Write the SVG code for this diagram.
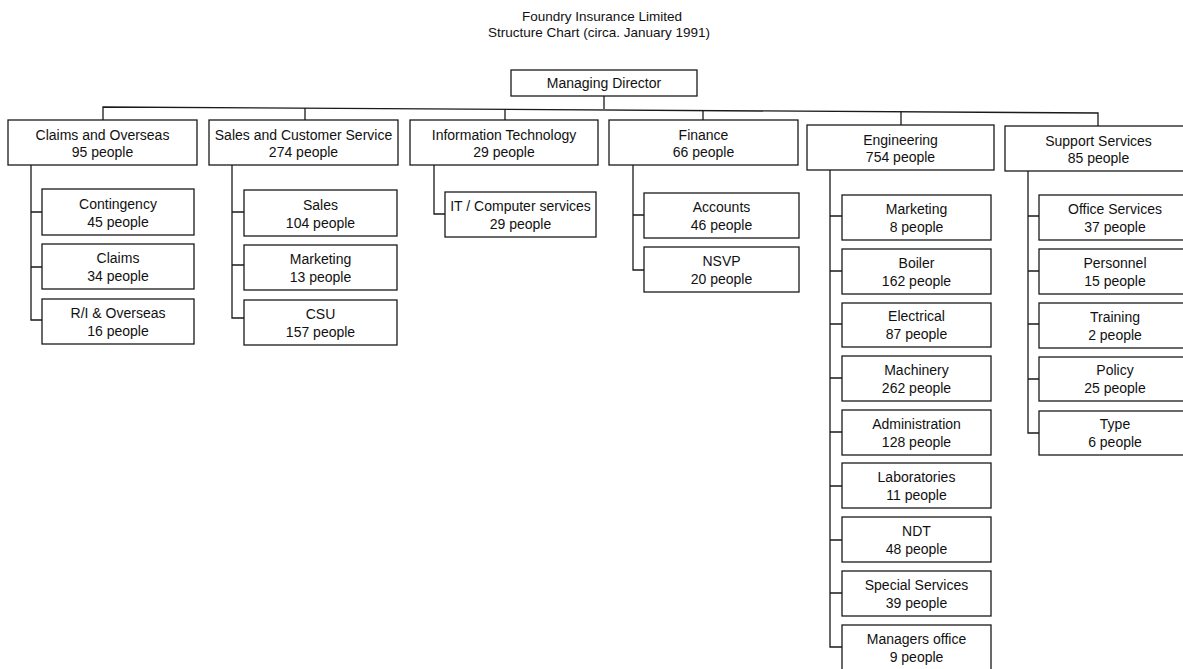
<svg xmlns="http://www.w3.org/2000/svg" width="1183" height="669" viewBox="0 0 1183 669">
<style>
  .box { fill: #ffffff; stroke: #1a1a1a; stroke-width: 1.3; }
  .conn { fill: none; stroke: #1a1a1a; stroke-width: 1.3; }
  text { font-family: "Liberation Sans", Arial, sans-serif; font-size: 14px; fill: #111; text-anchor: middle; }
  .title { font-size: 13.5px; }
</style>
<rect x="0" y="0" width="1183" height="669" fill="#ffffff"/>
<g id="title">
  <text class="title" x="602" y="21">Foundry Insurance Limited</text>
  <text class="title" x="599" y="37">Structure Chart (circa. January 1991)</text>
</g>
<g id="connectors">
  <path class="conn" d="M604 96 V109"/>
  <path class="conn" d="M103 120 V107 L1098 113 V126"/>
  <path class="conn" d="M305 120 V108"/>
  <path class="conn" d="M505 120 V109"/>
  <path class="conn" d="M703 120 V110"/>
  <path class="conn" d="M901 125 V111"/>
  <path class="conn" d="M31 165 V320 H42 M31 212 H42 M31 267 H42"/>
  <path class="conn" d="M232 165 V318 H244 M232 212 H244 M232 265 H244"/>
  <path class="conn" d="M434 165 V214 H445"/>
  <path class="conn" d="M633 165 V270 H644 M633 215 H644"/>
  <path class="conn" d="M830 170 V647 H842 M830 216 H842 M830 271 H842 M830 324 H842 M830 378 H842 M830 432 H842 M830 486 H842 M830 540 H842 M830 593 H842"/>
  <path class="conn" d="M1028 171 V433 H1039 M1028 216 H1039 M1028 271 H1039 M1028 324 H1039 M1028 379 H1039"/>
</g>
<g id="managing-director"><rect class="box" x="511" y="70" width="186" height="26"/><text x="604" y="88">Managing Director</text></g>

<g id="claims-overseas"><rect class="box" x="8" y="120" width="189" height="45"/><text x="102.5" y="140">Claims and Overseas</text><text x="102.5" y="157">95 people</text></g>
<g id="sales-customer-service"><rect class="box" x="209" y="120" width="189" height="45"/><text x="303.5" y="140">Sales and Customer Service</text><text x="303.5" y="157">274 people</text></g>
<g id="information-technology"><rect class="box" x="410" y="120" width="188" height="45"/><text x="504" y="140">Information Technology</text><text x="504" y="157">29 people</text></g>
<g id="finance"><rect class="box" x="609" y="120" width="189" height="45"/><text x="703.5" y="140">Finance</text><text x="703.5" y="157">66 people</text></g>
<g id="engineering"><rect class="box" x="807" y="125" width="187" height="45"/><text x="900.5" y="145">Engineering</text><text x="900.5" y="162">754 people</text></g>
<g id="support-services"><rect class="box" x="1005" y="126" width="187" height="45"/><text x="1098.5" y="146">Support Services</text><text x="1098.5" y="163">85 people</text></g>

<g id="contingency"><rect class="box" x="42" y="189" width="152" height="46"/><text x="118" y="209">Contingency</text><text x="118" y="227">45 people</text></g>
<g id="claims"><rect class="box" x="42" y="244" width="152" height="45"/><text x="118" y="263">Claims</text><text x="118" y="281">34 people</text></g>
<g id="ri-overseas"><rect class="box" x="42" y="299" width="152" height="45"/><text x="118" y="318">R/I &amp; Overseas</text><text x="118" y="336">16 people</text></g>

<g id="sales"><rect class="box" x="244" y="190" width="153" height="46"/><text x="320.5" y="210">Sales</text><text x="320.5" y="228">104 people</text></g>
<g id="marketing-sales"><rect class="box" x="244" y="245" width="153" height="45"/><text x="320.5" y="264">Marketing</text><text x="320.5" y="282">13 people</text></g>
<g id="csu"><rect class="box" x="244" y="300" width="153" height="45"/><text x="320.5" y="319">CSU</text><text x="320.5" y="337">157 people</text></g>

<g id="it-computer-services"><rect class="box" x="445" y="192" width="151" height="45"/><text x="520.5" y="211">IT / Computer services</text><text x="520.5" y="229">29 people</text></g>

<g id="accounts"><rect class="box" x="644" y="193" width="155" height="45"/><text x="721.5" y="212">Accounts</text><text x="721.5" y="230">46 people</text></g>
<g id="nsvp"><rect class="box" x="644" y="247" width="155" height="45"/><text x="721.5" y="266">NSVP</text><text x="721.5" y="284">20 people</text></g>

<g id="marketing-eng"><rect class="box" x="842" y="195" width="149" height="45"/><text x="916.5" y="214">Marketing</text><text x="916.5" y="232">8 people</text></g>
<g id="boiler"><rect class="box" x="842" y="249" width="149" height="45"/><text x="916.5" y="268">Boiler</text><text x="916.5" y="286">162 people</text></g>
<g id="electrical"><rect class="box" x="842" y="303" width="149" height="44"/><text x="916.5" y="321">Electrical</text><text x="916.5" y="339">87 people</text></g>
<g id="machinery"><rect class="box" x="842" y="356" width="149" height="45"/><text x="916.5" y="375">Machinery</text><text x="916.5" y="393">262 people</text></g>
<g id="administration"><rect class="box" x="842" y="410" width="149" height="45"/><text x="916.5" y="429">Administration</text><text x="916.5" y="447">128 people</text></g>
<g id="laboratories"><rect class="box" x="842" y="463" width="149" height="45"/><text x="916.5" y="482">Laboratories</text><text x="916.5" y="500">11 people</text></g>
<g id="ndt"><rect class="box" x="842" y="517" width="149" height="45"/><text x="916.5" y="536">NDT</text><text x="916.5" y="554">48 people</text></g>
<g id="special-services"><rect class="box" x="842" y="571" width="149" height="45"/><text x="916.5" y="590">Special Services</text><text x="916.5" y="608">39 people</text></g>
<g id="managers-office"><rect class="box" x="842" y="625" width="149" height="45"/><text x="916.5" y="644">Managers office</text><text x="916.5" y="662">9 people</text></g>

<g id="office-services"><rect class="box" x="1039" y="195" width="152" height="45"/><text x="1115" y="214">Office Services</text><text x="1115" y="232">37 people</text></g>
<g id="personnel"><rect class="box" x="1039" y="249" width="152" height="45"/><text x="1115" y="268">Personnel</text><text x="1115" y="286">15 people</text></g>
<g id="training"><rect class="box" x="1039" y="303" width="152" height="45"/><text x="1115" y="322">Training</text><text x="1115" y="340">2 people</text></g>
<g id="policy"><rect class="box" x="1039" y="357" width="152" height="44"/><text x="1115" y="375">Policy</text><text x="1115" y="393">25 people</text></g>
<g id="type"><rect class="box" x="1039" y="411" width="152" height="44"/><text x="1115" y="429">Type</text><text x="1115" y="447">6 people</text></g>
</svg>
